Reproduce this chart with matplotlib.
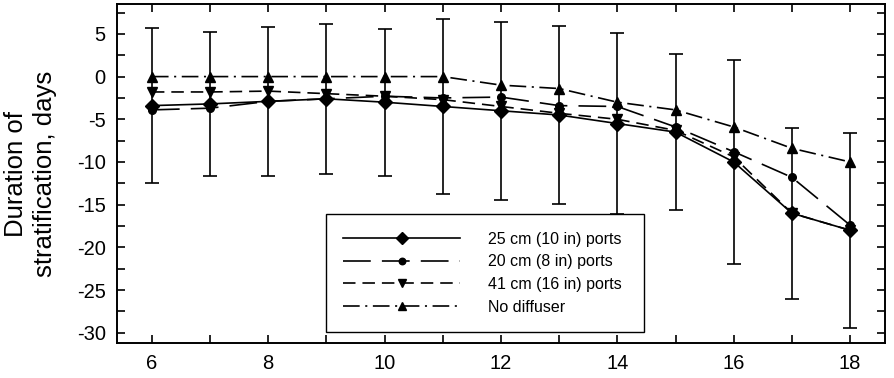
import matplotlib
matplotlib.use("Agg")
import matplotlib.pyplot as plt
from matplotlib.ticker import MultipleLocator

plt.rcParams['font.family'] = ['Liberation Sans', 'DejaVu Sans']
plt.rcParams['axes.unicode_minus'] = False
plt.rcParams['lines.scale_dashes'] = False

x = [6, 7, 8, 9, 10, 11, 12, 13, 14, 15, 16, 17, 18]
d25 = [-3.4, -3.2, -2.9, -2.6, -3.0, -3.5, -4.0, -4.5, -5.5, -6.5, -10.0, -16.0, -18.0]
err25 = [9.1, 8.4, 8.75, 8.8, 8.6, 10.2, 10.4, 10.4, 10.6, 9.1, 12.0, 10.0, 11.4]
d20 = [-3.9, -3.7, -2.9, -2.6, -2.3, -2.5, -2.4, -3.4, -3.5, -5.9, -8.8, -11.8, -17.4]
d41 = [-1.8, -1.8, -1.7, -2.0, -2.3, -2.7, -3.5, -4.3, -5.0, -6.3, -9.4, -16.0, -18.0]
dno = [0, 0, 0, 0, 0, 0, -1.0, -1.4, -3.0, -3.9, -5.9, -8.4, -10.0]
labels = ["25 cm (10 in) ports", "20 cm (8 in) ports", "41 cm (16 in) ports", "No diffuser"]

fig = plt.figure(figsize=(8.95, 3.78), dpi=100)
ax = fig.add_axes([0.1307, 0.0926, 0.8581, 0.8968])

lw = 1.2
ax.errorbar(x, d25, yerr=err25, fmt='none', ecolor='black', elinewidth=lw, capsize=5, capthick=lw, zorder=2)
ax.plot(x, d25, color='black', lw=lw, marker='D', ms=7, label=labels[0], zorder=3)
ax.plot(x, d20, color='black', lw=lw, marker='o', ms=5.5, dashes=(20, 8), label=labels[1], zorder=3)
ax.plot(x, d41, color='black', lw=lw, marker='v', ms=7, dashes=(9, 5), label=labels[2], zorder=3)
ax.plot(x, dno, color='black', lw=lw, marker='^', ms=7, dashes=(12, 4, 1.5, 4), label=labels[3], zorder=3)

ax.set_xlim(5.4, 18.6)
ax.set_ylim(-31.2, 8.5)
ax.xaxis.set_major_locator(MultipleLocator(2))
ax.xaxis.set_minor_locator(MultipleLocator(1))
ax.yaxis.set_major_locator(MultipleLocator(5))
ax.yaxis.set_minor_locator(MultipleLocator(2.5))
ax.tick_params(which='both', direction='in', top=True, right=True, length=6, width=1.2, labelsize=14.5, pad=8)
for s in ax.spines.values():
    s.set_linewidth(1.4)

ax.set_ylabel("Duration of\nstratification, days", fontsize=18.5, labelpad=14, linespacing=1.3)

leg = ax.legend(loc='lower left', bbox_to_anchor=(0.272, 0.032, 0.414, 0.35), mode='expand',
                borderaxespad=0, fancybox=False, edgecolor='black', framealpha=1,
                fontsize=11.5, handlelength=7.3, handletextpad=1.75, labelspacing=0.48, borderpad=1.1,
                markerscale=0.85)
leg.get_frame().set_linewidth(1.0)

fig.savefig("out.png", dpi=100)
